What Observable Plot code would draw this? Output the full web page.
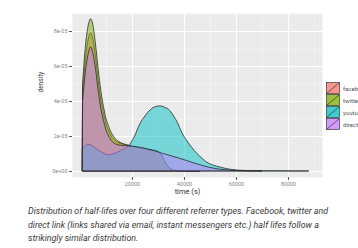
<!DOCTYPE html>
<html>
<head>
<meta charset="utf-8">
<script src="https://cdn.jsdelivr.net/npm/d3@7"></script>
<script src="https://cdn.jsdelivr.net/npm/@observablehq/plot@0.6"></script>
<style>
  html, body { margin: 0; padding: 0; background: #fff; width: 358px; height: 248px; overflow: hidden; position: relative; }
  #chart { position: absolute; left: 0; top: 0; }
  #legend { position: absolute; left: 326px; top: 82px; font-family: Roboto, sans-serif; font-size: 6px; color: #555; }
  .row { height: 12px; display: flex; align-items: center; white-space: nowrap; }
  .row span { margin-left: 3px; }
  #caption { position: absolute; left: 28px; top: 205px; font-family: Roboto, sans-serif; font-style: italic; font-size: 8.9px; line-height: 13.5px; color: #3a3a3a; white-space: nowrap; }
</style>
</head>
<body>
<div id="chart"></div>
<div id="legend"></div>
<div id="caption">Distribution of half-lifes over four different referrer types. Facebook, twitter and<br>direct link (links shared via email, instant messengers etc.) half lifes follow a<br>strikingly similar distribution.</div>
<script>
const categories = ["facebook", "twitter", "youtube", "direct"];
const colors = ["#F8766D", "#7CAE00", "#00BFC4", "#C77CFF"];

const facebookTime = [1000,2000,3000,4100,5000,6000,7000,8000,9000,10000,11000,12000,13000,14000,16000,18000,20000,22000,24000,26000,28000,30000,31000,32000,33000,34000,35000,36000,38000,42000,46000];
const facebookDensity = [4.5e-5,6.3e-5,7.4e-5,7.9e-5,7.5e-5,6.5e-5,5.2e-5,4.1e-5,3.3e-5,2.7e-5,2.3e-5,2.0e-5,1.8e-5,1.68e-5,1.55e-5,1.48e-5,1.4e-5,1.32e-5,1.27e-5,1.22e-5,1.18e-5,1.1e-5,0.98e-5,0.72e-5,0.42e-5,0.22e-5,0.1e-5,0.05e-5,0.02e-5,0.005e-5,0];

const twitterTime = [1000,2000,3000,4100,5000,6000,7000,8000,9000,10000,11000,12000,13000,14000,16000,18000,20000,22000,24000,26000,28000,30000,31000,32000,33000,34000,35000,36000,38000,42000,46000];
const twitterDensity = [5.0e-5,7.0e-5,8.2e-5,8.7e-5,8.3e-5,7.2e-5,5.8e-5,4.6e-5,3.7e-5,3.0e-5,2.55e-5,2.2e-5,1.95e-5,1.78e-5,1.6e-5,1.5e-5,1.42e-5,1.35e-5,1.3e-5,1.25e-5,1.2e-5,1.12e-5,1.0e-5,0.75e-5,0.45e-5,0.25e-5,0.12e-5,0.06e-5,0.03e-5,0.01e-5,0];

const youtubeTime = [1000,2000,3000,4000,5000,6000,8000,10000,11000,12000,14000,16000,18000,19000,21000,23000,25000,27000,29000,30800,32500,34600,36000,37700,39000,41000,43000,45000,47000,48800,51000,54000,57700,62000,68000,75000,82000,88000];
const youtubeDensity = [1.3e-5,1.45e-5,1.52e-5,1.5e-5,1.42e-5,1.3e-5,1.1e-5,0.95e-5,0.92e-5,0.95e-5,1.05e-5,1.2e-5,1.35e-5,1.5e-5,2.0e-5,2.7e-5,3.15e-5,3.5e-5,3.68e-5,3.72e-5,3.65e-5,3.45e-5,3.15e-5,2.7e-5,2.25e-5,1.75e-5,1.35e-5,1.0e-5,0.72e-5,0.5e-5,0.35e-5,0.22e-5,0.1e-5,0.04e-5,0.015e-5,0.008e-5,0.004e-5,0];

const directTime = [1000,2000,3000,4100,5000,6000,7000,8000,9000,10000,11000,12000,13000,14000,16000,18000,20000,23000,26000,29000,32000,35000,38000,41000,44000,47000,50000,53000,57000,62000,70000];
const directDensity = [4.0e-5,5.6e-5,6.6e-5,7.1e-5,6.7e-5,5.8e-5,4.6e-5,3.6e-5,2.9e-5,2.35e-5,2.0e-5,1.75e-5,1.6e-5,1.52e-5,1.46e-5,1.44e-5,1.42e-5,1.36e-5,1.26e-5,1.14e-5,1.0e-5,0.87e-5,0.74e-5,0.6e-5,0.45e-5,0.32e-5,0.2e-5,0.12e-5,0.06e-5,0.02e-5,0];

const xTicks = [20000, 40000, 60000, 80000];
const xMinor = [10000, 30000, 50000, 70000, 90000];
const yTicks = [0, 2e-5, 4e-5, 6e-5, 8e-5];
const yLabels = ["0e+00", "2e-05", "4e-05", "6e-05", "8e-05"];
const yMinor = [1e-5, 3e-5, 5e-5, 7e-5, 9e-5];

const series = [
  {name: "facebook", t: facebookTime, d: facebookDensity},
  {name: "twitter", t: twitterTime, d: twitterDensity},
  {name: "youtube", t: youtubeTime, d: youtubeDensity},
  {name: "direct", t: directTime, d: directDensity}
];
const tables = series.map(s => s.t.map((t, i) => ({cat: s.name, time: t, density: s.d[i]})));
const colorOf = new Map(categories.map((c, i) => [c, colors[i]]));
const yLabelMap = new Map(yTicks.map((t, i) => [t, yLabels[i]]));

const plot = Plot.plot({
  width: 358,
  height: 198,
  marginLeft: 72,
  marginRight: 36,
  marginTop: 13,
  marginBottom: 21,
  style: {fontFamily: "Roboto, sans-serif", background: "transparent", color: "#333"},
  x: {domain: [-3080, 93100]},
  y: {domain: [-0.343e-5, 9.03e-5]},
  marks: [
    Plot.frame({fill: "#EBEBEB", stroke: null}),
    Plot.gridY(yMinor, {stroke: "white", strokeOpacity: 0.7, strokeWidth: 0.5}),
    Plot.gridX(xMinor, {stroke: "white", strokeOpacity: 0.7, strokeWidth: 0.5}),
    Plot.gridY(yTicks, {stroke: "white", strokeOpacity: 1, strokeWidth: 1}),
    Plot.gridX(xTicks, {stroke: "white", strokeOpacity: 1, strokeWidth: 1}),
    ...tables.map(tab => Plot.areaY(tab, {
      x: "time", y: "density",
      fill: colorOf.get(tab[0].cat), fillOpacity: 0.5,
      stroke: "#2a2a2a", strokeWidth: 0.8, curve: "monotone-x"
    })),
    Plot.axisY(yTicks, {tickSize: 3, tickPadding: 2, tickFormat: d => yLabelMap.get(d), label: null, fontSize: 5.5, stroke: "#555", fill: "#888"}),
    Plot.axisX(xTicks, {tickSize: 3, tickPadding: 2, tickFormat: d => String(d), label: null, fontSize: 5.5, stroke: "#555", fill: "#888"}),
    Plot.text(["time (s)"], {text: d => d, frameAnchor: "bottom", dx: -10, dy: 16, fontSize: 7.5, fill: "#333"}),
    Plot.text(["density"], {text: d => d, frameAnchor: "left", rotate: -90, dx: -32, dy: -3, fontSize: 6.5, fill: "#444"})
  ]
});
document.getElementById("chart").appendChild(plot);

const legend = d3.select("#legend");
categories.forEach((c, i) => {
  const row = legend.append("div").attr("class", "row");
  const svg = row.append("svg").attr("width", 14).attr("height", 12);
  svg.append("rect").attr("width", 14).attr("height", 12).attr("fill", "#F2F2F2");
  svg.append("rect").attr("x", 0.5).attr("y", 0.5).attr("width", 13).attr("height", 11)
    .attr("fill", colors[i]).attr("fill-opacity", 0.75).attr("stroke", "#222").attr("stroke-width", 0.6);
  svg.append("line").attr("x1", 0.5).attr("y1", 11.5).attr("x2", 13.5).attr("y2", 0.5)
    .attr("stroke", "#222").attr("stroke-width", 0.6);
  row.append("span").text(c);
});
</script>
</body>
</html>
